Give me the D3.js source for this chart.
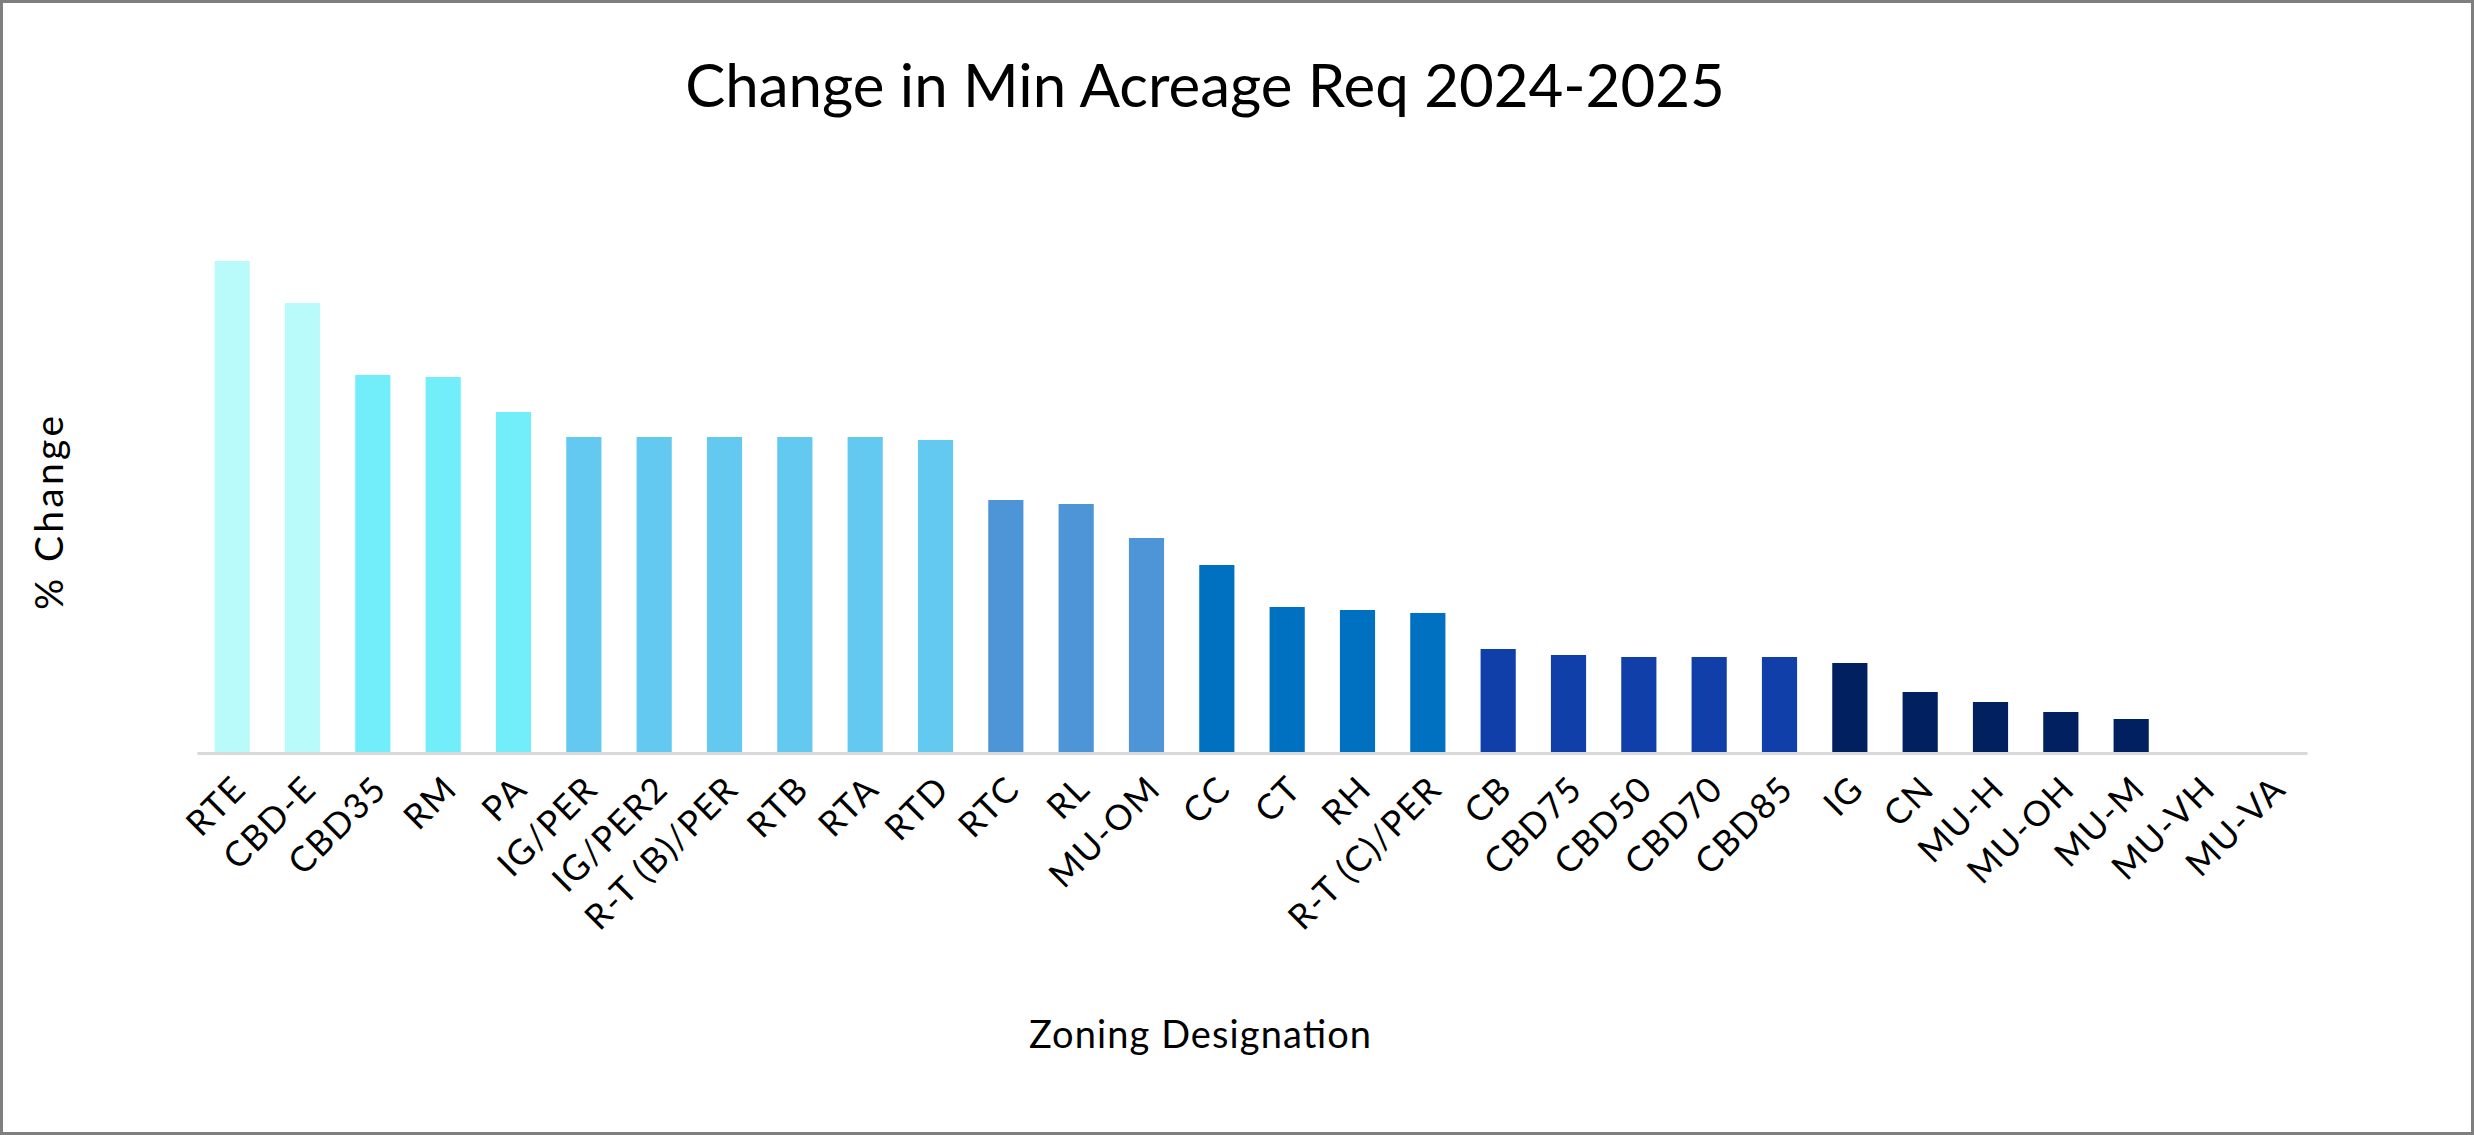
<!DOCTYPE html>
<html>
<head>
  <meta charset="utf-8">
  <title>Change in Min Acreage Req 2024-2025</title>
  <script src="https://cdn.jsdelivr.net/npm/d3@7"></script>
  <style>
    html, body { margin: 0; padding: 0; background: #fff; }
    svg { display: block; }
    text { font-family: Futura, "Century Gothic", Lato, sans-serif; fill: #000; }
  </style>
</head>
<body>
<script>

// zoning designations, in the order they are drawn
var zones = ["RTE", "CBD-E", "CBD35", "RM", "PA", "IG/PER", "IG/PER2", "R-T (B)/PER",
  "RTB", "RTA", "RTD", "RTC", "RL", "MU-OM", "CC", "CT", "RH", "R-T (C)/PER",
  "CB", "CBD75", "CBD50", "CBD70", "CBD85", "IG", "CN", "MU-H", "MU-OH", "MU-M",
  "MU-VH", "MU-VA"];

// % change (no axis ticks in the original)
var pctChange = [49.2, 45.0, 37.8, 37.6, 34.1, 31.6, 31.6, 31.6,
  31.6, 31.6, 31.3, 25.3, 24.9, 21.5, 18.8, 14.6, 14.3, 14.0,
  10.4, 9.8, 9.6, 9.6, 9.6, 9.0, 6.1, 5.1, 4.1, 3.4,
  0, 0];

// colour group of each bar
var groups = [0, 0, 1, 1, 1, 2, 2, 2, 2, 2, 2, 3, 3, 3, 4, 4, 4, 4,
  5, 5, 5, 5, 5, 6, 6, 6, 6, 6, 6, 6];
var groupColors = ["#B8FBFA", "#72EEFB", "#63C9F0", "#4E95D8", "#0070C0", "#113FAA", "#012060"];

var width = 2474,
    height = 1135;

var svg = d3.select("body").append("svg")
    .attr("width", width)
    .attr("height", height);

// outer border
svg.append("rect")
    .attr("x", 1.5).attr("y", 1.5)
    .attr("width", width - 3).attr("height", height - 3)
    .attr("fill", "#fff")
    .attr("stroke", "#7F7F7F")
    .attr("stroke-width", 3);

var x = d3.scaleBand()
    .domain(zones)
    .range([197, 2307])
    .paddingInner(0.5)
    .paddingOuter(0.25);

var y = d3.scaleLinear()
    .domain([0, 60])
    .range([753, 153]);

var data = zones.map(function(z, i) {
  return { zone: z, value: pctChange[i], group: groups[i] };
});

// bars
svg.append("g").selectAll("rect")
    .data(data)
  .enter().append("rect")
    .attr("x", function(d) { return x(d.zone); })
    .attr("y", function(d) { return y(d.value); })
    .attr("width", x.bandwidth())
    .attr("height", function(d) { return y(0) - y(d.value); })
    .attr("fill", function(d) { return groupColors[d.group]; });

// category axis
var xAxis = svg.append("g")
    .attr("transform", "translate(0," + y(0) + ")")
    .call(d3.axisBottom(x).tickSize(0).tickSizeOuter(0));

xAxis.select(".domain")
    .attr("stroke", "#D9D9D9")
    .attr("stroke-width", 3);

xAxis.selectAll(".tick text")
    .attr("font-size", 35)
    .attr("letter-spacing", 1.6)
    .attr("font-family", "Futura, 'Century Gothic', Lato, sans-serif")
    .attr("fill", "#000")
    .attr("text-anchor", "end")
    .attr("dy", null)
    .attr("y", 0)
    .attr("transform", "translate(16,38) rotate(-45)");

// title
svg.append("text")
    .attr("x", 1205)
    .attr("y", 107)
    .attr("text-anchor", "middle")
    .attr("font-size", 60)
    .text("Change in Min Acreage Req 2024-2025");

// axis titles
svg.append("text")
    .attr("transform", "translate(63,513) rotate(-90)")
    .attr("text-anchor", "middle")
    .attr("font-size", 39)
    .attr("textLength", 194)
    .attr("lengthAdjust", "spacing")
    .text("% Change");

svg.append("text")
    .attr("x", 1200)
    .attr("y", 1048)
    .attr("text-anchor", "middle")
    .attr("font-size", 38)
    .attr("textLength", 342)
    .attr("lengthAdjust", "spacing")
    .text("Zoning Designation");

</script>
</body>
</html>
